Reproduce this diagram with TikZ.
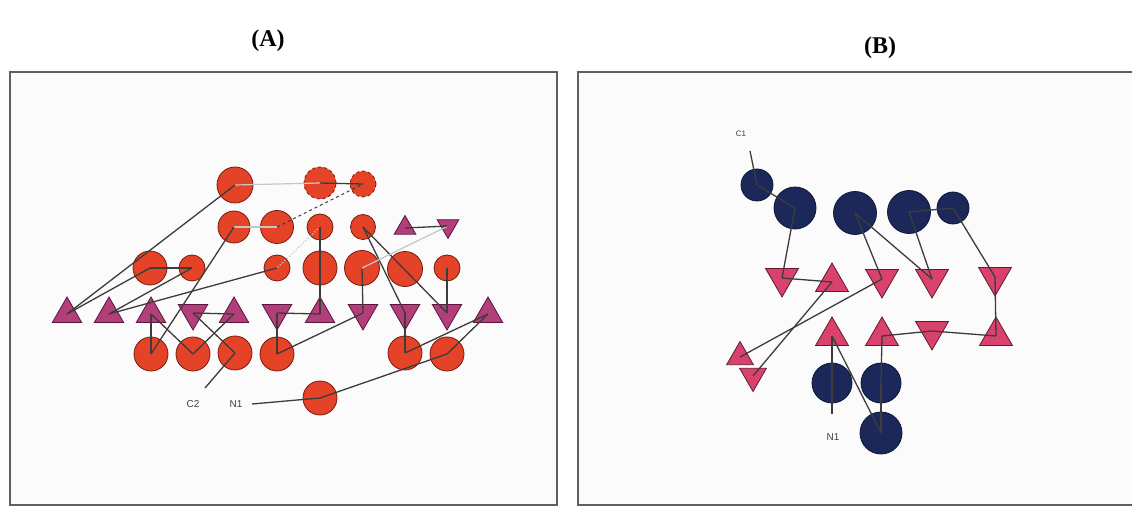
\documentclass[tikz,border=0pt]{standalone}
\usepackage{fontspec}
\setmainfont{Liberation Serif}
\newfontfamily\labfont{Liberation Sans}
\usetikzlibrary{shapes.geometric}
\definecolor{redfill}{RGB}{229,67,40}
\definecolor{redline}{RGB}{120,25,15}
\definecolor{navyfill}{RGB}{28,40,90}
\definecolor{navyline}{RGB}{14,22,54}
\definecolor{triAfill}{RGB}{178,62,122}
\definecolor{triAline}{RGB}{90,22,62}
\definecolor{triBfill}{RGB}{216,66,108}
\definecolor{triBline}{RGB}{100,25,45}
\definecolor{edgecol}{RGB}{60,60,60}
\definecolor{panelcol}{RGB}{95,95,100}
\tikzset{
  cA/.style={circle,inner sep=0pt,fill=redfill,draw=redline,line width=0.8pt,minimum size=#1},
  cB/.style={circle,inner sep=0pt,fill=navyfill,draw=navyline,line width=0.8pt,minimum size=#1},
  tupA/.style={regular polygon,regular polygon sides=3,inner sep=0pt,minimum size=#1,fill=triAfill,draw=triAline,line width=0.8pt},
  tdnA/.style={tupA=#1,shape border rotate=180},
  tupB/.style={regular polygon,regular polygon sides=3,inner sep=0pt,minimum size=#1,fill=triBfill,draw=triBline,line width=0.8pt},
  tdnB/.style={tupB=#1,shape border rotate=180},
  edge/.style={draw=edgecol,line width=1.3pt},
  faint/.style={draw=gray!45,line width=1.2pt},
  panel/.style={draw=panelcol,line width=2.6pt,fill=gray!3},
  lab/.style={font=\labfont\fontsize{10}{12}\selectfont,text=black!75,inner sep=1pt},
  title/.style={font=\fontsize{24}{28}\selectfont\bfseries,inner sep=0pt}
}
\begin{document}
\begin{tikzpicture}[x=1pt,y=-1pt]
\useasboundingbox (0,0) rectangle (1132,510);
\fill[white] (0,0) rectangle (1132,510);
% panels
\draw[panel] (10,72) rectangle (557,505);
\fill[gray!3] (578,72) rectangle (1132,505);
\draw[panelcol,line width=2.6pt] (1133,72) -- (578,72) -- (578,505) -- (1133,505);
\node[title] (ta) at (268,41) {(A)};
\node[title] (tb) at (880,48) {(B)};
% ---------------- Panel A nodes ----------------
\node[cA=36] (a1) at (235,185) {};
\node[cA=32,dashed] (a2) at (320,183) {};
\node[cA=26,dashed] (a3) at (363,184) {};
\node[cA=32] (b1) at (234,227) {};
\node[cA=33] (b2) at (277,227) {};
\node[cA=26] (b3) at (320,227) {};
\node[cA=25] (b4) at (363,227) {};
\node[tupA=25] (bt1) at (405,228) {};
\node[tdnA=25] (bt2) at (448,226) {};
\node[cA=34] (c1) at (150,268) {};
\node[cA=26] (c2) at (192,268) {};
\node[cA=26] (c3) at (277,268) {};
\node[cA=34] (c4) at (320,268) {};
\node[cA=35] (c5) at (362,268) {};
\node[cA=35] (c6) at (405,269) {};
\node[cA=26] (c7) at (447,268) {};
\node[tupA=34] (t1) at (67,314) {};
\node[tupA=34] (t2) at (109,314) {};
\node[tupA=34] (t3) at (151,314) {};
\node[tdnA=34] (t4) at (193,313) {};
\node[tupA=34] (t5) at (234,314) {};
\node[tdnA=34] (t6) at (277,313) {};
\node[tupA=34] (t7) at (320,314) {};
\node[tdnA=34] (t8) at (363,313) {};
\node[tdnA=34] (t9) at (405,313) {};
\node[tdnA=34] (t10) at (447,313) {};
\node[tupA=34] (t11) at (488,314) {};
\node[cA=34] (d1) at (151,354) {};
\node[cA=34] (d2) at (193,354) {};
\node[cA=34] (d3) at (235,353) {};
\node[cA=34] (d4) at (277,354) {};
\node[cA=34] (d5) at (405,353) {};
\node[cA=34] (d6) at (447,354) {};
\node[cA=34] (e1) at (320,398) {};
\node[lab] (lc2) at (193,404) {C2};
\node[lab] (ln1) at (236,404) {N1};
\coordinate (lc2end) at (205,388);
\coordinate (ln1end) at (252,404);
% ---------------- Panel A edges ----------------
\draw[faint] (a1.center) -- (a2.center);
\draw[edge] (a2.center) -- (a3.center);
\draw[edge,dashed,line width=1pt] (b2.center) -- (a3.center);
\draw[faint] (b1.center) -- (b2.center);
\draw[faint,dotted] (b3.center) -- (c3.center);
\draw[edge] (t1.center) -- (a1.center);
\draw[edge] (t1.center) -- (c1.center);
\draw[edge] (c1.center) -- (c2.center);
\draw[edge] (t2.center) -- (c2.center);
\draw[edge] (t2.center) -- (c3.center);
\draw[edge] (b1.center) -- (d1.center);
\draw[edge] (t3.center) -- (d1.center);
\draw[edge] (t3.center) -- (d2.center);
\draw[edge] (t4.center) -- (d3.center);
\draw[edge] (t4.center) -- (t5.center);
\draw[edge] (t5.center) -- (d2.center);
\draw[edge] (b3.center) -- (c4.center);
\draw[edge] (c4.center) -- (t7.center);
\draw[edge] (t7.center) -- (t6.center);
\draw[edge] (t6.center) -- (d4.center);
\draw[edge] (d4.center) -- (t8.center);
\draw[edge] (c5.center) -- (t8.center);
\draw[edge] (b4.center) -- (t9.center);
\draw[edge] (b4.center) -- (t10.center);
\draw[edge] (c7.center) -- (t10.center);
\draw[edge] (t9.center) -- (d5.center);
\draw[faint] (c5.center) -- (bt2.center);
\draw[edge] (bt1.center) -- (bt2.center);
\draw[edge] (t11.center) -- (d5.center);
\draw[edge] (t11.center) -- (d6.center);
\draw[edge] (e1.center) -- (d6.center);
\draw[edge] (ln1end) -- (e1.center);
\draw[edge] (lc2end) -- (d3.center);
% ---------------- Panel B nodes ----------------
\node[cB=32] (p1) at (757,185) {};
\node[cB=42] (p2) at (795,208) {};
\node[cB=43] (p3) at (855,213) {};
\node[cB=43] (p4) at (909,212) {};
\node[cB=32] (p5) at (953,208) {};
\node[tdnB=38] (q1) at (782,278) {};
\node[tupB=38] (q2) at (832,282) {};
\node[tdnB=38] (q3) at (882,279) {};
\node[tdnB=38] (q4) at (932,279) {};
\node[tdnB=38] (q5) at (995,277) {};
\node[tupB=38] (r1) at (832,336) {};
\node[tupB=38] (r2) at (882,336) {};
\node[tdnB=38] (r3) at (932,331) {};
\node[tupB=38] (r4) at (996,336) {};
\node[tupB=31] (s1) at (740,357) {};
\node[tdnB=31] (s2) at (753,376) {};
\node[cB=40] (u1) at (832,383) {};
\node[cB=40] (u2) at (881,383) {};
\node[cB=42] (u3) at (881,433) {};
\node[lab,font=\labfont\fontsize{8}{10}\selectfont] (lc1) at (741,134) {C1};
\node[lab] (ln1b) at (833,437) {N1};
\coordinate (lc1end) at (750,151);
\coordinate (n1bend) at (832,414);
% ---------------- Panel B edges ----------------
\draw[edge] (lc1end) -- (p1.center);
\draw[edge] (p1.center) -- (p2.center);
\draw[edge] (p2.center) -- (q1.center);
\draw[edge] (q1.center) -- (q2.center);
\draw[edge] (p3.center) -- (q3.center);
\draw[edge] (p3.center) -- (q4.center);
\draw[edge] (p4.center) -- (q4.center);
\draw[edge] (p4.center) -- (p5.center);
\draw[edge] (p5.center) -- (q5.center);
\draw[edge] (q5.center) -- (r4.center);
\draw[edge] (r2.center) -- (r3.center);
\draw[edge] (r3.center) -- (r4.center);
\draw[edge] (s1.center) -- (q3.center);
\draw[edge] (s2.center) -- (q2.center);
\draw[edge] (r1.center) -- (u1.center);
\draw[edge] (u1.center) -- (n1bend);
\draw[edge] (r1.center) -- (u3.center);
\draw[edge] (r2.center) -- (u2.center);
\draw[edge] (u2.center) -- (u3.center);
\end{tikzpicture}
\end{document}
